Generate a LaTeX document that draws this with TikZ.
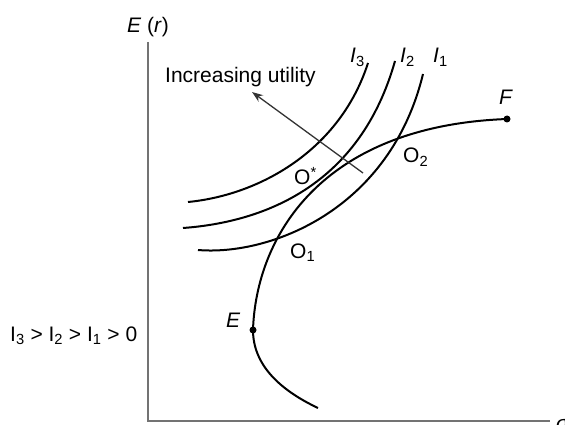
\documentclass[tikz,border=0pt]{standalone}
\usepackage{fontspec}
\setmainfont{Liberation Sans}
\usetikzlibrary{arrows.meta}
\begin{document}
\begin{tikzpicture}[x=1pt,y=-1pt,
  lbl/.style={inner sep=0pt, anchor=base west, font=\fontsize{21}{25}\selectfont},
  axisline/.style={line width=2.2pt, draw=black!55},
  curve/.style={line width=2pt, draw=black},
  util/.style={line width=1.3pt, draw=black!80, -{Stealth[length=11pt,width=8pt]}},
  dot/.style={circle, fill=black, inner sep=0pt, minimum size=7pt}]
\useasboundingbox (0,0) rectangle (565,425);
% axes
\coordinate (ytop) at (148,42);
\coordinate (orig) at (148,421);
\coordinate (xend) at (550,421);
\draw[axisline] (ytop) -- (orig) -- (xend);
\node[lbl] (yl) at (127,33) {\textit{E} (\textit{r})};
\node[lbl, font=\fontsize{21}{25}\selectfont\itshape] (xl) at (556,430) {σ};
% efficient frontier
\coordinate (Ebot) at (318,408);
\node[dot] (E) at (253,330) {};
\node[dot] (F) at (507,119) {};
\draw[curve] (Ebot) .. controls (280,390) and (253,365) .. (E.center)
  .. controls (256,238) and (320,126) .. (F.center);
% indifference curves
\coordinate (a1) at (198,250); \coordinate (b1) at (423,74);
\coordinate (a2) at (183,228); \coordinate (b2) at (395,61);
\coordinate (a3) at (188,202); \coordinate (b3) at (368,63);
\draw[curve] (a1) .. controls (270,256) and (390,210) .. (b1);
\draw[curve] (a2) .. controls (265,222) and (360,185) .. (b2);
\draw[curve] (a3) .. controls (260,195) and (340,150) .. (b3);
% labels
\node[lbl] (lE) at (226,327) {\textit{E}};
\node[lbl] (lF) at (499,105) {\textit{F}};
\node[lbl] (lI3) at (350,63) {\textit{I}\textsubscript{3}};
\node[lbl] (lI2) at (400,63) {\textit{I}\textsubscript{2}};
\node[lbl] (lI1) at (433,63) {\textit{I}\textsubscript{1}};
\node[lbl] (lOs) at (294,185) {O\textsuperscript{*}};
\node[lbl] (lO1) at (290,258) {O\textsubscript{1}};
\node[lbl] (lO2) at (403,163) {O\textsubscript{2}};
\node[lbl] (ineq) at (10,341) {I\textsubscript{3} > I\textsubscript{2} > I\textsubscript{1} > 0};
% increasing utility
\node[lbl] (inc) at (165,83) {Increasing utility};
\coordinate (arrS) at (363,173);
\coordinate (arrE) at (252,92);
\draw[util] (arrS) -- (arrE);
\end{tikzpicture}
\end{document}
